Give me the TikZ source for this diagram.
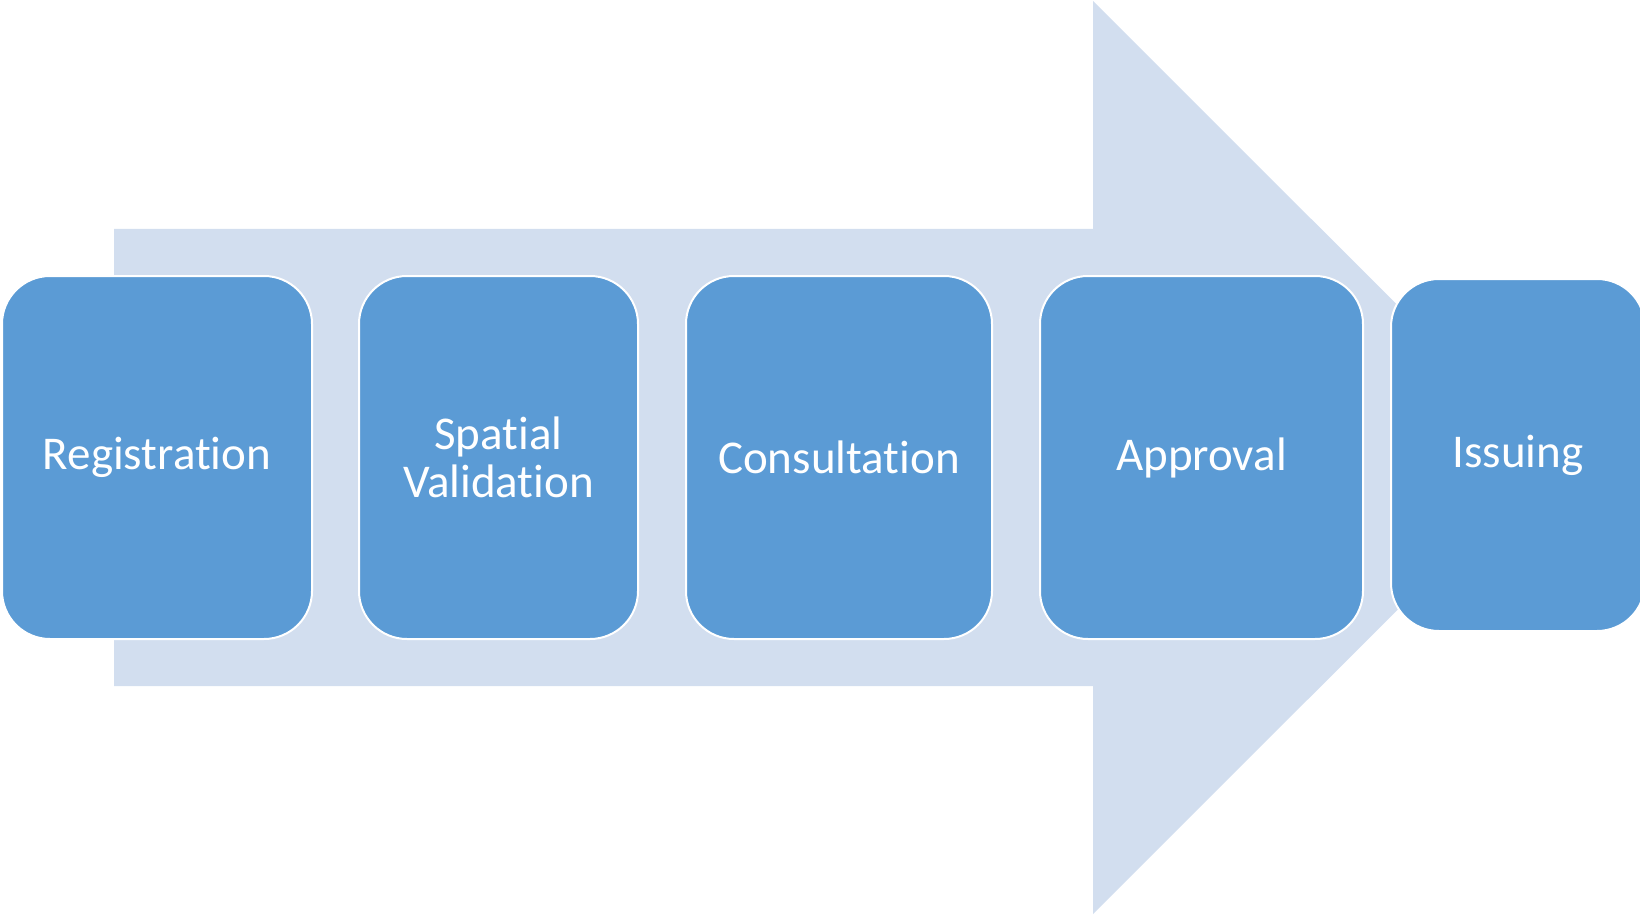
\documentclass[tikz,border=0pt]{standalone}
\usepackage{fontspec}
\setmainfont{Carlito}[Ligatures={NoCommon}]
\usepackage{xcolor}
\usetikzlibrary{shapes, positioning}
\definecolor{stepblue}{HTML}{5B9BD5}
\definecolor{arrowpale}{HTML}{D2DEEF}

\begin{document}
\begin{tikzpicture}[x=0.5pt, y=-0.5pt,
    stage/.style={draw=white, line width=1pt, fill=stepblue, rounded corners=24pt,
      text=white, font=\fontsize{23.5}{24}\selectfont, align=center,
      minimum height=181.5pt, inner sep=0pt}]
        \useasboundingbox (0,0) rectangle (1640,915);

        % big background arrow
        \fill[arrowpale] (114,229) -- (1093,229) -- (1093,1) -- (1550,457.5)
          -- (1093,914) -- (1093,686) -- (114,686) -- cycle;

        \node[stage, minimum width=155pt] (reg) at (157,457.5) {Registration};
        \node[stage, minimum width=139.5pt] (spat) at (498.5,457.5) {Spatial\\Validation};
        \node[stage, minimum width=153pt] (cons) at (839,457.5) {Consultation};
        \node[stage, minimum width=161.5pt] (appr) at (1201.5,457.5) {Approval};
        \node[stage, minimum width=127pt, minimum height=176pt] (issu) at (1518,455) {Issuing};
      \end{tikzpicture}
\end{document}
